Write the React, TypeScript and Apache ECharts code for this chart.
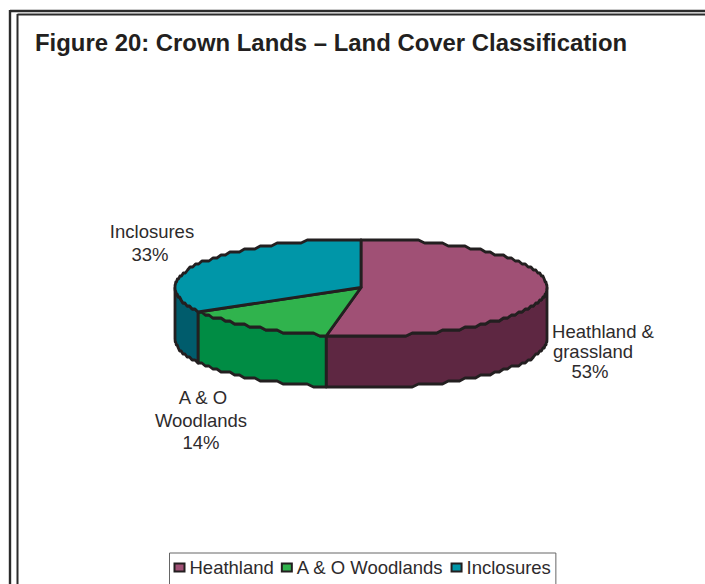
import React, { useEffect, useRef } from "react";
import * as echarts from "echarts";

const categories = ["Heathland", "A & O Woodlands", "Inclosures"];
const shares = [53, 14, 33];
const topColors = ["#a05075", "#30b34d", "#0096a8"];
const sideColors = ["#5e2742", "#008c44", "#005c6c"];

const INK = "#231f20";
const LABEL_INK = "#2e2b2c";
const TITLE = "Figure 20: Crown Lands – Land Cover Classification";

// Slice labels, one entry per text line
const sliceLabelLines = ["Inclosures", "33%", "Heathland &", "grassland", "53%", "A & O", "Woodlands", "14%"];
const sliceLabelX = [152, 150, 603, 593, 590, 203, 201, 201];
const sliceLabelY = [231, 254, 331, 351, 371, 397, 420, 442];

const DEPTH = 1.06; // cylinder height, in units of the ellipse's vertical radius
const STEP = 2; // sampling of the rim, degrees
const RIM_SNAP = 3; // the rim is stepped vertically, like a low-resolution plot export

function rimAngles(from: number, to: number) {
  const out: number[] = [];
  for (let t = from; t < to; t += STEP) out.push(t);
  out.push(to);
  return out;
}

const rimPoint = (deg: number, drop: number) => {
  const r = (deg * Math.PI) / 180;
  return [Math.sin(r), Math.cos(r) - drop];
};

function renderSlice(index: number) {
  return (_params: any, api: any) => {
    const start = (api.value(0) / 100) * 360;
    const end = ((api.value(0) + api.value(1)) / 100) * 360;
    const toPx = (p: number[]) => {
      const c = api.coord(p);
      return [c[0], Math.round(c[1] / RIM_SNAP) * RIM_SNAP];
    };
    const children: any[] = [];

    // Front wall: only the part of the rim facing the viewer
    const a = Math.max(start, 90);
    const b = Math.min(end, 270);
    if (b > a) {
      const upper = rimAngles(a, b).map((t) => toPx(rimPoint(t, 0)));
      const lower = rimAngles(a, b).reverse().map((t) => toPx(rimPoint(t, DEPTH)));
      children.push({
        type: "polygon",
        shape: { points: upper.concat(lower) },
        style: { fill: sideColors[index], stroke: INK, lineWidth: 2.8, lineJoin: "round" },
      });
    }

    // Top face
    const arc = rimAngles(start, end).map((t) => toPx(rimPoint(t, 0)));
    children.push({
      type: "polygon",
      shape: { points: [api.coord([0, 0]), ...arc] },
      style: { fill: api.visual("color"), stroke: INK, lineWidth: 2.8, lineJoin: "round" },
    });
    return { type: "group", children };
  };
}

export default function App() {
  const ref = useRef<HTMLDivElement>(null);

  useEffect(() => {
    const chart = echarts.init(ref.current!, undefined, { renderer: "svg" });
    let cumulative = 0;
    const series = categories.map((name, i) => {
      const start = cumulative;
      cumulative += shares[i];
      return {
        type: "custom",
        name,
        coordinateSystem: "cartesian2d",
        clip: false,
        silent: true,
        itemStyle: { color: topColors[i] },
        data: [[start, shares[i]]],
        renderItem: renderSlice(i),
      };
    });

    const frame = [
      { x1: 10, y1: 11, x2: 705, y2: 11, w: 2.4 },
      { x1: 17.5, y1: 14.5, x2: 705, y2: 14.5, w: 2 },
      { x1: 10, y1: 10, x2: 10, y2: 584, w: 2.4 },
      { x1: 17.5, y1: 14, x2: 17.5, y2: 584, w: 2 },
    ];

    chart.setOption({
      animation: false,
      backgroundColor: "#ffffff",
      grid: { left: 175, top: 239, width: 372, height: 97 },
      xAxis: { type: "value", min: -1, max: 1, show: false },
      yAxis: { type: "value", min: -1, max: 1, show: false },
      legend: {
        show: true,
        left: 169.5,
        top: 553,
        orient: "horizontal",
        icon: "rect",
        itemWidth: 10,
        itemHeight: 8,
        itemGap: 7,
        padding: [5, 5, 40, 4],
        borderColor: "#666666",
        borderWidth: 1,
        backgroundColor: "#ffffff",
        selectedMode: false,
        itemStyle: { borderColor: INK, borderWidth: 2 },
        textStyle: { color: LABEL_INK, fontFamily: "Liberation Sans", fontSize: 18.5 },
      },
      series,
      graphic: [
        ...frame.map((l) => ({
          type: "line",
          shape: { x1: l.x1, y1: l.y1, x2: l.x2, y2: l.y2 },
          style: { stroke: "#2b2b2b", lineWidth: l.w },
          silent: true,
        })),
        {
          type: "text",
          x: 35,
          y: 42,
          style: {
            text: TITLE,
            fill: INK,
            font: "bold 23.9px 'Liberation Sans'",
            textAlign: "left",
            textVerticalAlign: "middle",
          },
        },
        ...sliceLabelLines.map((text, i) => ({
          type: "text",
          x: sliceLabelX[i],
          y: sliceLabelY[i],
          style: {
            text,
            fill: LABEL_INK,
            font: "18.5px 'Liberation Sans'",
            textAlign: "center",
            textVerticalAlign: "middle",
          },
        })),
      ],
    });
    return () => chart.dispose();
  }, []);

  return (
    <div
      ref={ref}
      style={{ position: "fixed", left: 0, top: 0, width: 705, height: 584 }}
    />
  );
}
